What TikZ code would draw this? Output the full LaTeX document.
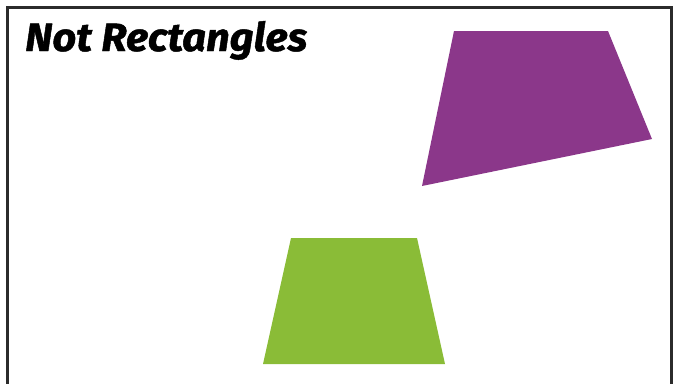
\documentclass[tikz,border=0pt]{standalone}
\usepackage{fontspec}
\newfontfamily\titlefont[FakeBold=1.2]{Fira Sans Bold Italic}
\definecolor{framegray}{HTML}{2B2B2B}
\definecolor{quadpurple}{HTML}{8B378A}
\definecolor{quadgreen}{HTML}{8ABC37}
\tikzset{
  framebox/.style={draw=framegray, line width=3pt},
  shapefill/.style={fill=#1, draw=none}
}
\begin{document}
\begin{tikzpicture}[x=1pt,y=-1pt]
\useasboundingbox (0,0) rectangle (677,383);
\begin{scope}
\clip (0,0) rectangle (677,383);
\draw[framebox] (7.5,7.5) rectangle (671.5,400);
\end{scope}
\node[anchor=base west, inner sep=0pt] (title) at (25,51)
  {\resizebox{282pt}{30pt}{\titlefont Not Rectangles}};
\fill[shapefill=quadpurple] (454,31) -- (608,31) -- (652,139) -- (422,186) -- cycle;
\fill[shapefill=quadgreen] (291,238) -- (417,238) -- (445,364) -- (263,364) -- cycle;
\end{tikzpicture}
\end{document}
